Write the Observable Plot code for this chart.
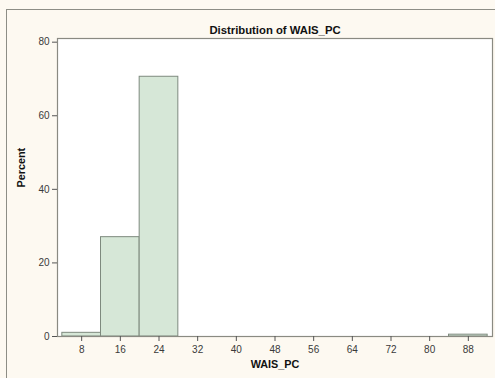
<!DOCTYPE html>
<html>
<head>
<meta charset="utf-8">
<script src="https://cdn.jsdelivr.net/npm/d3@7"></script>
<script src="https://cdn.jsdelivr.net/npm/@observablehq/plot@0.6"></script>
<style>
  html, body { margin: 0; padding: 0; background: #fdf9f1; }
  #wrap { position: relative; width: 495px; height: 378px; overflow: hidden; background: #fdf9f1; }
  #outer { position: absolute; left: 6px; top: 9px; width: 600px; height: 600px;
           border-left: 1px solid #8d8d85; border-top: 1px solid #8d8d85; }
  #chart { position: absolute; left: 0; top: 0; }
</style>
</head>
<body>
<div id="wrap"><div id="outer"></div><div id="chart"></div></div>
<script>
// Histogram bins (WAIS_PC) and percentages
const binLo = [4, 12, 20, 84];
const binHi = [12, 20, 28, 92];
const percent = [1.0, 27.0, 70.6, 0.5];
const xTicks = [8, 16, 24, 32, 40, 48, 56, 64, 72, 80, 88];
const yTicks = [0, 20, 40, 60, 80];
const title = "Distribution of WAIS_PC";
const xLabel = "WAIS_PC";
const yLabel = "Percent";

const bins = binLo.map((lo, i) => ({lo, hi: binHi[i], pct: percent[i]}));

const font = "Liberation Sans, Arial, sans-serif";
const plot = Plot.plot({
  width: 495,
  height: 378,
  marginLeft: 57,
  marginRight: 3,
  marginTop: 38,
  marginBottom: 42,
  style: {background: "transparent", fontFamily: font, color: "#333"},
  x: {domain: [3, 93]},
  y: {domain: [0, 81]},
  marks: [
    Plot.frame({fill: "white", stroke: "none"}),
    Plot.rectY(bins, {x1: "lo", x2: "hi", y1: 0, y2: "pct", fill: "#d6e7d7", stroke: "#7e8a7e", strokeWidth: 1}),
    Plot.frame({stroke: "#8a8a82", strokeWidth: 1.2}),
    Plot.axisX({ticks: xTicks, tickSize: 5, tickPadding: 4, fontSize: 10, label: null, stroke: "#555", fill: "#3a3a3a"}),
    Plot.axisY({ticks: yTicks, tickSize: 5, tickPadding: 3, fontSize: 10, label: null, stroke: "#555", fill: "#3a3a3a"}),
    Plot.text([title], {frameAnchor: "top", dy: -13, fontSize: 11.3, fontWeight: "bold", fill: "#111"}),
    Plot.text([xLabel], {frameAnchor: "bottom", dy: 31, fontSize: 10.8, fontWeight: "bold", fill: "#111"}),
    Plot.text([yLabel], {frameAnchor: "left", dx: -36, rotate: -90, fontSize: 10.8, fontWeight: "bold", fill: "#111"})
  ]
});
document.getElementById("chart").appendChild(plot);
</script>
</body>
</html>
